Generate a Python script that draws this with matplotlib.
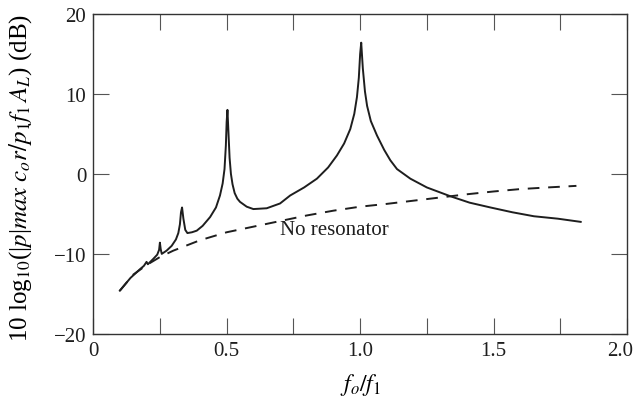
import numpy as np
import matplotlib.pyplot as plt
import matplotlib.transforms as mtransforms

plt.rcParams['font.family'] = ['Liberation Serif', 'DejaVu Serif']
plt.rcParams['mathtext.fontset'] = 'stix'

# solid curve (with resonator)
x_res = [0.10, 0.14, 0.176, 0.19, 0.20, 0.205, 0.226, 0.24, 0.247, 0.25, 0.253, 0.257,
         0.275, 0.294, 0.31, 0.319, 0.325, 0.329, 0.333, 0.338, 0.345, 0.353, 0.37, 0.388,
         0.41, 0.438, 0.46, 0.475, 0.485, 0.492, 0.497, 0.5, 0.503, 0.507, 0.511, 0.516,
         0.522, 0.53, 0.54, 0.55, 0.575, 0.6, 0.65, 0.7, 0.738, 0.79, 0.838, 0.88, 0.913,
         0.94, 0.963, 0.978, 0.988, 0.995, 1.0, 1.004, 1.01, 1.018, 1.026, 1.04, 1.063,
         1.09, 1.113, 1.138, 1.188, 1.25, 1.338, 1.41, 1.488, 1.57, 1.651, 1.74, 1.826]
y_res = [-14.6, -13.0, -11.9, -11.5, -11.0, -11.3, -10.6, -10.1, -9.5, -8.6, -9.4, -10.0,
         -9.6, -9.0, -8.2, -7.4, -6.3, -4.8, -4.2, -5.6, -7.0, -7.4, -7.3, -7.1,
         -6.5, -5.4, -4.2, -2.7, -1.2, 0.6, 3.5, 6.5, 8.0, 5.0, 2.0, 0.0,
         -1.3, -2.4, -3.1, -3.5, -4.1, -4.4, -4.3, -3.7, -2.7, -1.7, -0.6, 0.8, 2.3,
         3.8, 5.6, 7.5, 9.6, 12.0, 15.0, 16.4, 13.2, 10.3, 8.5, 6.6, 4.8,
         3.0, 1.7, 0.6, -0.6, -1.7, -2.8, -3.6, -4.2, -4.8, -5.3, -5.6, -6.0]

# dashed curve (no resonator)
x_nores = [0.10, 0.15, 0.20, 0.25, 0.30, 0.40, 0.50, 0.60, 0.70, 0.80, 0.90, 1.00,
           1.10, 1.20, 1.30, 1.40, 1.50, 1.60, 1.70, 1.81]
y_nores = [-14.6, -12.6, -11.4, -10.4, -9.6, -8.3, -7.3, -6.6, -5.9, -5.2, -4.6, -4.1,
           -3.75, -3.35, -2.95, -2.55, -2.2, -1.9, -1.7, -1.5]

x_ticks = [0, 0.25, 0.5, 0.75, 1.0, 1.25, 1.5, 1.75, 2.0]
x_labels = ['0', '', '0.5', '', '1.0', '', '1.5', '', '2.0']
y_ticks = [-20, -10, 0, 10, 20]
y_labels = ['\u221220', '\u221210', '0', '10', '20']

fig = plt.figure(figsize=(6.38, 4.02), dpi=100)
ax = fig.add_axes([0.146, 0.167, 0.837, 0.796])

ax.plot(x_res, y_res, color='#1e1e1e', lw=1.4)
ax.plot(x_nores, y_nores, color='#1e1e1e', lw=1.4, dashes=(6, 4.5))
ax.text(0.70, -6.9, 'No resonator', fontsize=15, va='center', ha='left', color='#1e1e1e')

ax.set_xlim(0, 2.0)
ax.set_ylim(-20, 20)
ax.set_xticks(x_ticks)
ax.set_xticklabels(x_labels)
ax.set_yticks(y_ticks)
ax.set_yticklabels(y_labels)
ax.tick_params(direction='in', length=11.5, width=0.8, color='#555555',
               top=True, right=True, labelsize=15, pad=5, labelcolor='#1e1e1e')
for s in ax.spines.values():
    s.set_linewidth(1.0)
    s.set_color('#333333')

# last x label sits at the figure edge; nudge it in a little so it stays whole
last = ax.get_xticklabels()[-1]
last.set_transform(last.get_transform() + mtransforms.ScaledTranslation(-5 / 72, 0, fig.dpi_scale_trans))

ax.set_xlabel(r'$f_o/f_1$', fontsize=17, labelpad=8)
ax.set_ylabel(r'10 log$_{10}$(|$p$|$max\ c_o r/p_1 f_1\, A_L$) (dB)', fontsize=18, labelpad=0)
ax.yaxis.set_label_coords(-0.11, 0.49)

fig.savefig('out.png', dpi=100)
